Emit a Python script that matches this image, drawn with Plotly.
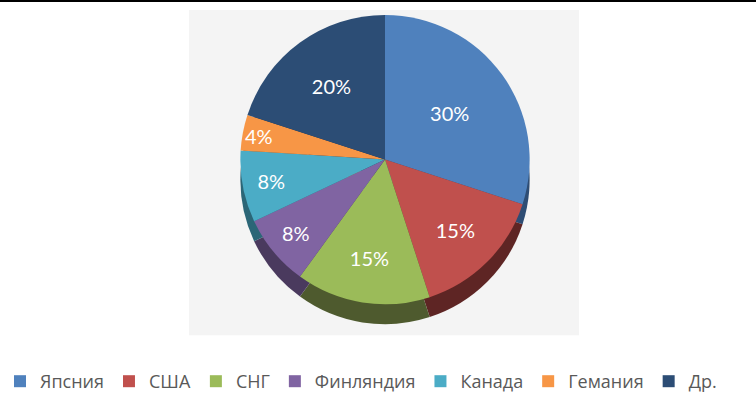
import plotly.graph_objects as go

labels = ["Япсния", "США", "СНГ", "Финляндия", "Канада", "Гемания", "Др."]
values = [30, 15, 15, 8, 8, 4, 20]
top_colors = ["#4F81BD", "#C0504D", "#9BBB59", "#8064A2", "#4BACC6", "#F79646", "#2C4D75"]
side_colors = ["#2E4D74", "#5E2524", "#4E5A2E", "#4A3A5E", "#2B6677", "#8F5527", "#1B2F48"]

W, H = 756, 400
cx, cy, r, depth = 385, 160, 145, 20

def dom(cy_px):
    return dict(x=[(cx - r) / W, (cx + r) / W],
                y=[1 - (cy_px + r) / H, 1 - (cy_px - r) / H])

fig = go.Figure()
# side (thickness) of the pie
fig.add_trace(go.Pie(
    labels=labels, values=values, sort=False, direction="clockwise", rotation=0,
    marker=dict(colors=side_colors, line=dict(width=0)),
    textinfo="none", hoverinfo="skip", showlegend=False,
    domain=dom(cy + depth),
))
# top face
fig.add_trace(go.Pie(
    labels=labels, values=values, sort=False, direction="clockwise", rotation=0,
    marker=dict(colors=top_colors, line=dict(width=0)),
    texttemplate="%{value}%", textposition="inside",
    insidetextorientation="horizontal",
    textfont=dict(family="Lato", size=20, color="white"),
    domain=dom(cy),
))

fig.update_layout(
    width=W, height=H,
    margin=dict(l=0, r=0, t=0, b=0),
    paper_bgcolor="white", plot_bgcolor="white",
    uniformtext=dict(minsize=20, mode="show"),
    showlegend=True,
    legend=dict(orientation="h", x=0.0, xanchor="left", y=0.045, yanchor="middle",
                font=dict(family="Open Sans", size=18, color="#595959"),
                traceorder="normal", itemclick=False),
    shapes=[
        dict(type="rect", xref="paper", yref="paper",
             x0=189 / W, x1=579 / W, y0=1 - 336 / H, y1=1 - 10 / H,
             fillcolor="#f4f4f4", line=dict(width=0), layer="below"),
        dict(type="line", xref="paper", yref="paper",
             x0=0, x1=1, y0=1 - 1 / H, y1=1 - 1 / H,
             line=dict(color="black", width=2)),
    ],
)

fig.write_html("out.html")
